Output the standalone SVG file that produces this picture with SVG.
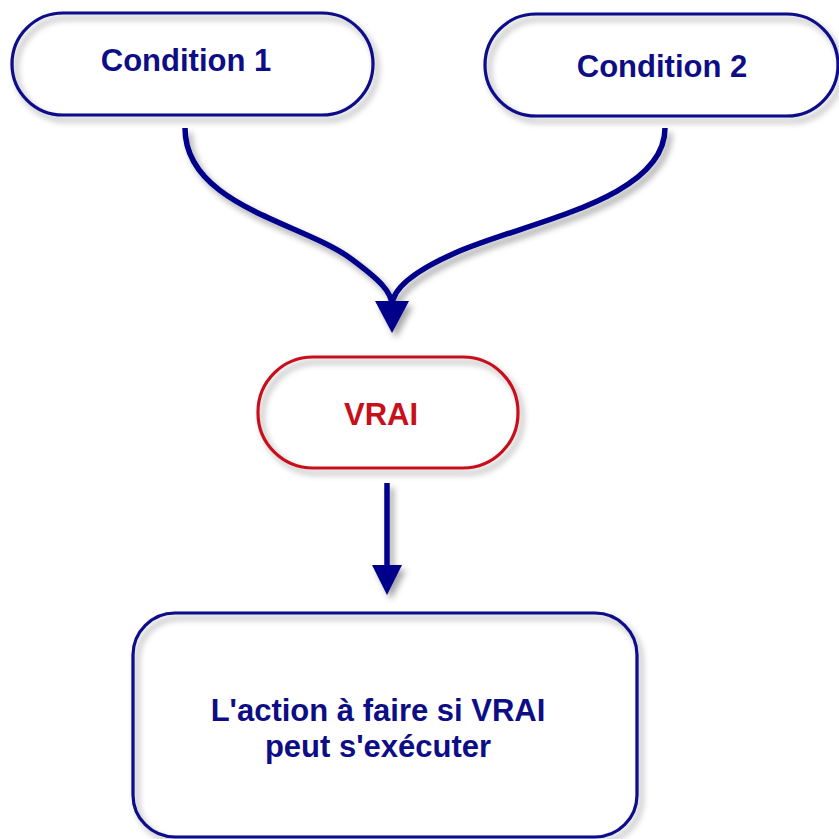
<svg xmlns="http://www.w3.org/2000/svg" width="839" height="839" viewBox="0 0 839 839">
  <defs>
    <filter id="sh" x="-10%" y="-10%" width="130%" height="140%">
      <feDropShadow dx="4" dy="5" stdDeviation="3" flood-color="#000" flood-opacity="0.35"/>
    </filter>
    <style>
      .box { fill: none; stroke: #0a0a8a; stroke-width: 3.2; }
      .red { fill: none; stroke: #c8101a; stroke-width: 3.2; }
      .lbl { font-family: "Liberation Sans", Arial, sans-serif; font-weight: bold; font-size: 31px; fill: #0d0d85; text-anchor: middle; }
      .lblr { font-family: "Liberation Sans", Arial, sans-serif; font-weight: bold; font-size: 31px; fill: #c8101a; text-anchor: middle; }
      .wire { fill: none; stroke: #00008a; stroke-width: 5.5; }
      .head { fill: #00008a; }
    </style>
  </defs>
  <rect width="839" height="839" fill="#fff"/>

  <g id="connectors" filter="url(#sh)">
    <path class="wire" d="M185,128 C185,205 300,222 350,258 C380,280 392,292 392,306"/>
    <path class="wire" d="M665,128 C665,200 525,222 455,253 C412,272 392,290 392,306"/>
    <polygon class="head" points="375,301 409,301 392,333"/>
    <line class="wire" x1="387" y1="483" x2="387" y2="568" stroke-width="6.5"/>
    <polygon class="head" points="372,565 402,565 387,595"/>
  </g>

  <g id="cond1">
    <rect class="box" x="12" y="13" width="361" height="102" rx="51" filter="url(#sh)"/>
    <text class="lbl" x="186" y="71">Condition 1</text>
  </g>

  <g id="cond2">
    <rect class="box" x="485" y="14" width="353" height="102" rx="51" filter="url(#sh)"/>
    <text class="lbl" x="662" y="77">Condition 2</text>
  </g>

  <g id="vrai">
    <rect class="red" x="258" y="357" width="260" height="111" rx="55" filter="url(#sh)"/>
    <text class="lblr" x="381" y="425">VRAI</text>
  </g>

  <g id="action">
    <rect class="box" x="133" y="613" width="504" height="224" rx="42" filter="url(#sh)"/>
    <text class="lbl" x="378" y="721">L'action à faire si VRAI</text>
    <text class="lbl" x="378" y="757">peut s'exécuter</text>
  </g>
</svg>
